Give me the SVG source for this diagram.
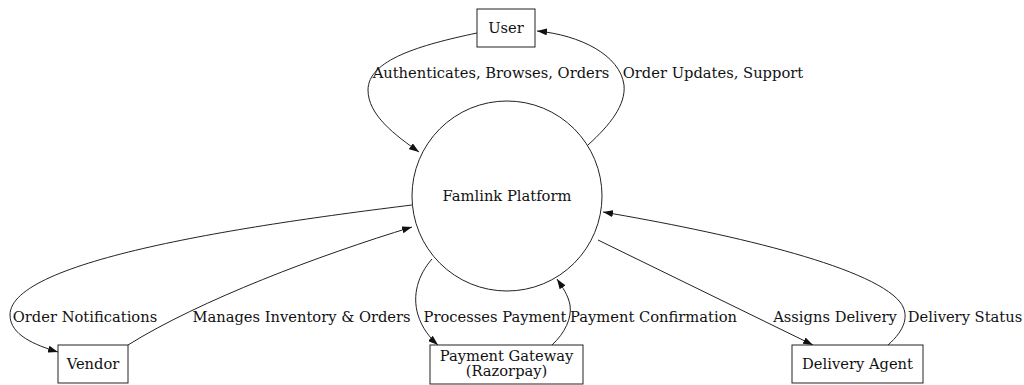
<svg xmlns="http://www.w3.org/2000/svg" width="1024" height="385" viewBox="0 0 1024 385">
<style>
text{font-family:"DejaVu Serif","Liberation Serif",serif;font-size:14.7px;fill:#111;text-anchor:middle}
.n{fill:#fff;stroke:#222;stroke-width:1}
.e{fill:none;stroke:#222;stroke-width:1}
</style>
<defs>
<marker id="a" viewBox="0 0 10 7" refX="10" refY="3.5" markerWidth="10" markerHeight="7" markerUnits="userSpaceOnUse" orient="auto">
<path d="M0,0 L10,3.5 L0,7 Z" fill="#111"/>
</marker>
</defs>
<rect width="1024" height="385" fill="#fff"/>
<g id="connectors">
<path class="e" marker-end="url(#a)" d="M477,33 C420,45 368,60 368,90 C368,115 395,135 419,152"/>
<path class="e" marker-end="url(#a)" d="M588,145 C610,125 626,105 624,85 C620,55 580,35 537,31"/>
<path class="e" marker-end="url(#a)" d="M412,205 C250,225 10,260 10,315 C10,335 35,345 58,352"/>
<path class="e" marker-end="url(#a)" d="M128,345 C200,300 320,255 412,227"/>
<path class="e" marker-end="url(#a)" d="M432,259 C418,275 412,295 418,315 C422,328 430,338 438,345"/>
<path class="e" marker-end="url(#a)" d="M552,345 C565,333 572,318 570,305 C568,295 563,288 557,279"/>
<path class="e" marker-end="url(#a)" d="M598,240 L813,345"/>
<path class="e" marker-end="url(#a)" d="M888,345 C905,330 910,315 900,302 C870,265 720,232 603,212"/>
<text x="491" y="78">Authenticates, Browses, Orders</text>
<text x="713" y="78">Order Updates, Support</text>
<text x="85" y="322">Order Notifications</text>
<text x="301.5" y="322">Manages Inventory &amp; Orders</text>
<text x="495" y="322">Processes Payment</text>
<text x="653.5" y="322">Payment Confirmation</text>
<text x="835" y="322">Assigns Delivery</text>
<text x="965" y="322">Delivery Status</text>
</g>
<g id="platform">
<circle class="n" cx="507" cy="196" r="95"/>
<text x="507" y="201">Famlink Platform</text>
</g>
<g id="user">
<rect class="n" x="477" y="9" width="58" height="38"/>
<text x="506" y="33">User</text>
</g>
<g id="vendor">
<rect class="n" x="58" y="345" width="70" height="38"/>
<text x="93" y="369">Vendor</text>
</g>
<g id="payment">
<rect class="n" x="430" y="345" width="153" height="39"/>
<text x="506.5" y="361">Payment Gateway</text>
<text x="506.5" y="376">(Razorpay)</text>
</g>
<g id="delivery">
<rect class="n" x="792" y="345" width="131" height="38"/>
<text x="857.5" y="369">Delivery Agent</text>
</g>
</svg>
